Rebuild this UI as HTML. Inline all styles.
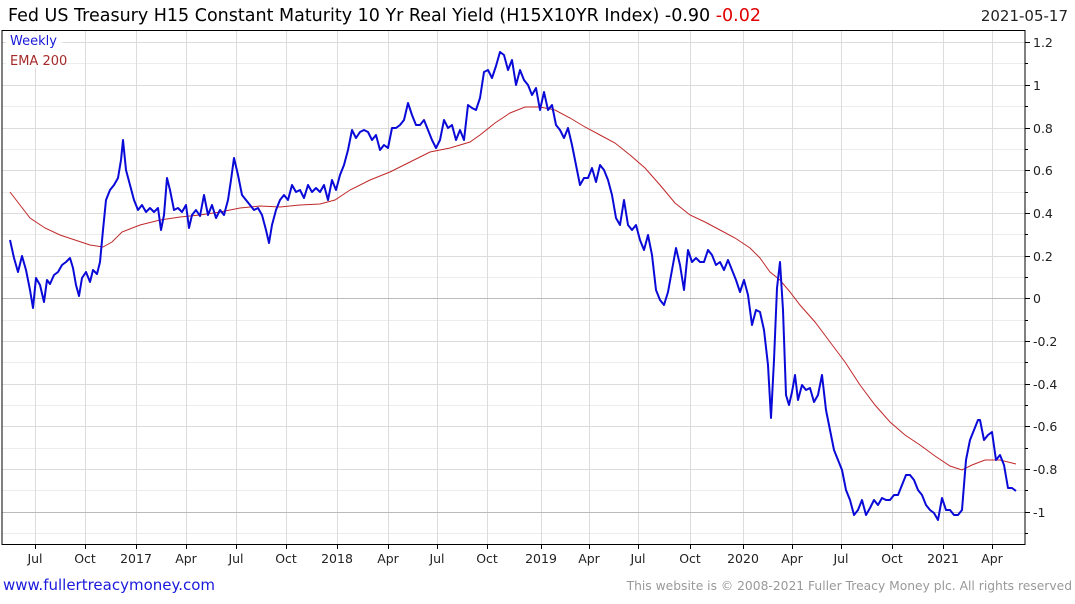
<!DOCTYPE html>
<html><head><meta charset="utf-8"><style>
body{margin:0;background:#fff;width:1075px;height:600px;overflow:hidden;font-family:"DejaVu Sans","Liberation Sans",sans-serif}
</style></head><body>
<svg width="1075" height="600" xmlns="http://www.w3.org/2000/svg" font-family="DejaVu Sans, Liberation Sans, sans-serif">
<text x="8" y="21" font-size="17.5" fill="#000">Fed US Treasury H15 Constant Maturity 10 Yr Real Yield (H15X10YR Index) -0.90 <tspan fill="#e00000">-0.02</tspan></text>
<text x="1068" y="21" font-size="15" fill="#222" text-anchor="end">2021-05-17</text>
<g stroke="#ececec" stroke-width="1">
<line x1="2" x2="1025" y1="63.5" y2="63.5"/><line x1="2" x2="1025" y1="106.5" y2="106.5"/><line x1="2" x2="1025" y1="149.5" y2="149.5"/><line x1="2" x2="1025" y1="192.5" y2="192.5"/><line x1="2" x2="1025" y1="234.5" y2="234.5"/><line x1="2" x2="1025" y1="277.5" y2="277.5"/><line x1="2" x2="1025" y1="320.5" y2="320.5"/><line x1="2" x2="1025" y1="362.5" y2="362.5"/><line x1="2" x2="1025" y1="405.5" y2="405.5"/><line x1="2" x2="1025" y1="448.5" y2="448.5"/><line x1="2" x2="1025" y1="490.5" y2="490.5"/><line x1="2" x2="1025" y1="533.5" y2="533.5"/>
</g>
<g stroke="#dcdcdc" stroke-width="1">
<line x1="2" x2="1025" y1="42.5" y2="42.5"/><line x1="2" x2="1025" y1="85.5" y2="85.5"/><line x1="2" x2="1025" y1="128.5" y2="128.5"/><line x1="2" x2="1025" y1="170.5" y2="170.5"/><line x1="2" x2="1025" y1="213.5" y2="213.5"/><line x1="2" x2="1025" y1="256.5" y2="256.5"/><line x1="2" x2="1025" y1="384.5" y2="384.5"/><line x1="2" x2="1025" y1="341.5" y2="341.5"/><line x1="2" x2="1025" y1="426.5" y2="426.5"/><line x1="2" x2="1025" y1="469.5" y2="469.5"/>
<line x1="35.5" x2="35.5" y1="30" y2="544"/><line x1="85.5" x2="85.5" y1="30" y2="544"/><line x1="136.5" x2="136.5" y1="30" y2="544"/><line x1="186.5" x2="186.5" y1="30" y2="544"/><line x1="236.5" x2="236.5" y1="30" y2="544"/><line x1="286.5" x2="286.5" y1="30" y2="544"/><line x1="337.5" x2="337.5" y1="30" y2="544"/><line x1="388.5" x2="388.5" y1="30" y2="544"/><line x1="437.5" x2="437.5" y1="30" y2="544"/><line x1="487.5" x2="487.5" y1="30" y2="544"/><line x1="541.5" x2="541.5" y1="30" y2="544"/><line x1="589.5" x2="589.5" y1="30" y2="544"/><line x1="638.5" x2="638.5" y1="30" y2="544"/><line x1="690.5" x2="690.5" y1="30" y2="544"/><line x1="743.5" x2="743.5" y1="30" y2="544"/><line x1="792.5" x2="792.5" y1="30" y2="544"/><line x1="841.5" x2="841.5" y1="30" y2="544"/><line x1="892.5" x2="892.5" y1="30" y2="544"/><line x1="943.5" x2="943.5" y1="30" y2="544"/><line x1="992.5" x2="992.5" y1="30" y2="544"/>
</g>
<line x1="2" x2="1025" y1="298.5" y2="298.5" stroke="#bbb"/>
<line x1="2" x2="1025" y1="512.5" y2="512.5" stroke="#bbb"/>
<rect x="2" y="30.5" width="1023" height="514" fill="none" stroke="#000" stroke-width="1"/>
<rect x="6" y="32" width="56" height="36" fill="#fff" opacity="0.85"/>
<text x="10" y="45" font-size="13" fill="#1a1adc">Weekly</text>
<text x="10" y="65" font-size="13" fill="#a52a2a">EMA 200</text>
<polyline fill="none" stroke="#c0282a" stroke-width="1" points="10,192 20,205 30,218 45,228 60,235 75,240 90,245 103,247 112,242 122,232 140,225 160,220 180,217 200,215 220,212 240,208 260,206 280,207 300,205 320,204 335,200 350,190 370,180 390,172 410,162 430,152 450,148 470,142 480,135 495,123 510,113 525,107 540,107 555,110 570,118 585,127 600,135 615,143 630,155 645,168 660,185 675,203 690,215 705,222 720,230 735,238 750,248 760,258 770,272 780,280 790,292 800,305 815,322 830,342 845,362 860,385 875,405 890,422 905,435 920,445 935,456 950,466 962,470 972,465 985,460 1000,460 1016,464"/>
<polyline fill="none" stroke="#0a0ad8" stroke-width="2" stroke-linejoin="round" points="10,240 14,258 18,272 22,256 26,270 30,290 33,308 36,278 40,285 44,302 47,280 50,284 54,275 58,272 62,265 66,262 70,258 73,268 76,285 79,296 82,278 86,272 90,282 93,270 97,274 100,262 103,230 106,200 110,190 114,185 118,178 121,160 123,140 126,170 130,185 134,200 138,210 142,205 146,212 150,208 154,212 158,208 161,230 164,215 167,178 170,190 174,210 178,208 182,212 186,205 189,228 192,215 196,210 200,216 204,195 208,215 212,205 216,218 220,210 224,215 228,200 231,180 234,158 238,175 242,195 246,200 250,205 254,210 258,208 262,215 266,230 269,243 272,225 276,210 280,200 284,195 288,200 292,185 296,192 300,190 304,198 308,185 312,192 316,188 320,192 324,185 328,200 332,180 336,190 340,175 344,165 348,150 352,130 356,138 360,132 364,130 368,132 372,140 376,135 380,150 384,145 388,148 392,128 396,128 400,125 404,120 408,103 412,115 416,125 420,125 424,120 428,130 432,140 436,148 440,140 444,120 448,128 452,125 456,140 460,130 464,140 468,105 472,108 476,110 480,98 484,72 488,70 492,78 496,66 500,52 504,55 508,70 512,60 516,85 520,70 524,80 528,85 532,95 536,88 540,110 544,92 548,110 552,105 556,125 560,130 564,138 568,128 572,145 576,165 580,185 584,178 588,178 592,168 596,182 600,165 604,170 608,180 612,195 616,218 620,225 624,200 628,225 632,230 636,225 640,240 644,250 648,235 652,255 656,290 660,300 664,305 668,292 672,270 676,248 680,265 684,290 688,250 692,262 696,258 700,262 704,262 708,250 712,255 716,265 720,262 724,270 728,260 732,270 736,280 740,292 744,280 748,295 752,325 756,310 760,312 764,330 768,365 771,418 774,360 777,288 780,262 783,310 786,395 789,405 792,392 795,375 798,400 802,385 806,390 810,388 814,402 818,395 822,375 826,410 830,430 834,450 838,460 842,470 846,490 850,500 854,515 858,510 862,500 866,515 870,508 874,500 878,505 882,498 886,500 890,500 894,495 898,495 902,485 906,475 910,475 914,480 918,490 922,495 926,505 930,510 934,513 938,520 942,498 946,510 950,510 954,515 958,515 962,510 966,460 970,440 974,430 978,420 980,420 984,440 988,435 992,432 996,460 1000,455 1004,465 1008,488 1012,488 1016,491"/>
<g stroke="#000" stroke-width="1">
<line x1="1025" x2="1030" y1="42.5" y2="42.5"/><line x1="1025" x2="1030" y1="85.5" y2="85.5"/><line x1="1025" x2="1030" y1="128.5" y2="128.5"/><line x1="1025" x2="1030" y1="170.5" y2="170.5"/><line x1="1025" x2="1030" y1="213.5" y2="213.5"/><line x1="1025" x2="1030" y1="256.5" y2="256.5"/><line x1="1025" x2="1030" y1="298.5" y2="298.5"/><line x1="1025" x2="1030" y1="341.5" y2="341.5"/><line x1="1025" x2="1030" y1="384.5" y2="384.5"/><line x1="1025" x2="1030" y1="426.5" y2="426.5"/><line x1="1025" x2="1030" y1="469.5" y2="469.5"/><line x1="1025" x2="1030" y1="512.5" y2="512.5"/>
<line x1="1025" x2="1028" y1="63.5" y2="63.5"/><line x1="1025" x2="1028" y1="106.5" y2="106.5"/><line x1="1025" x2="1028" y1="149.5" y2="149.5"/><line x1="1025" x2="1028" y1="192.5" y2="192.5"/><line x1="1025" x2="1028" y1="234.5" y2="234.5"/><line x1="1025" x2="1028" y1="277.5" y2="277.5"/><line x1="1025" x2="1028" y1="320.5" y2="320.5"/><line x1="1025" x2="1028" y1="362.5" y2="362.5"/><line x1="1025" x2="1028" y1="405.5" y2="405.5"/><line x1="1025" x2="1028" y1="448.5" y2="448.5"/><line x1="1025" x2="1028" y1="490.5" y2="490.5"/><line x1="1025" x2="1028" y1="533.5" y2="533.5"/>
<line x1="35.5" x2="35.5" y1="544" y2="549"/><line x1="85.5" x2="85.5" y1="544" y2="549"/><line x1="136.5" x2="136.5" y1="544" y2="549"/><line x1="186.5" x2="186.5" y1="544" y2="549"/><line x1="236.5" x2="236.5" y1="544" y2="549"/><line x1="286.5" x2="286.5" y1="544" y2="549"/><line x1="337.5" x2="337.5" y1="544" y2="549"/><line x1="388.5" x2="388.5" y1="544" y2="549"/><line x1="437.5" x2="437.5" y1="544" y2="549"/><line x1="487.5" x2="487.5" y1="544" y2="549"/><line x1="541.5" x2="541.5" y1="544" y2="549"/><line x1="589.5" x2="589.5" y1="544" y2="549"/><line x1="638.5" x2="638.5" y1="544" y2="549"/><line x1="690.5" x2="690.5" y1="544" y2="549"/><line x1="743.5" x2="743.5" y1="544" y2="549"/><line x1="792.5" x2="792.5" y1="544" y2="549"/><line x1="841.5" x2="841.5" y1="544" y2="549"/><line x1="892.5" x2="892.5" y1="544" y2="549"/><line x1="943.5" x2="943.5" y1="544" y2="549"/><line x1="992.5" x2="992.5" y1="544" y2="549"/>
</g>
<g font-size="12.5" fill="#222">
<text x="1033" y="47">1.2</text><text x="1033" y="90">1</text><text x="1033" y="133">0.8</text><text x="1033" y="175">0.6</text><text x="1033" y="218">0.4</text><text x="1033" y="261">0.2</text><text x="1033" y="303">0</text><text x="1033" y="346">-0.2</text><text x="1033" y="389">-0.4</text><text x="1033" y="431">-0.6</text><text x="1033" y="474">-0.8</text><text x="1033" y="517">-1</text>
</g>
<g font-size="12.5" fill="#222" text-anchor="middle">
<text x="35" y="563">Jul</text><text x="85" y="563">Oct</text><text x="136" y="563">2017</text><text x="186" y="563">Apr</text><text x="236" y="563">Jul</text><text x="286" y="563">Oct</text><text x="337" y="563">2018</text><text x="388" y="563">Apr</text><text x="437" y="563">Jul</text><text x="487" y="563">Oct</text><text x="541" y="563">2019</text><text x="589" y="563">Apr</text><text x="638" y="563">Jul</text><text x="690" y="563">Oct</text><text x="743" y="563">2020</text><text x="792" y="563">Apr</text><text x="841" y="563">Jul</text><text x="892" y="563">Oct</text><text x="943" y="563">2021</text><text x="992" y="563">Apr</text>
</g>
<text x="3" y="590" font-size="15" fill="#1a1adc">www.fullertreacymoney.com</text>
<text x="1072" y="590" font-size="12.3" fill="#999" text-anchor="end">This website is © 2008-2021 Fuller Treacy Money plc. All rights reserved</text>
</svg>
</body></html>
